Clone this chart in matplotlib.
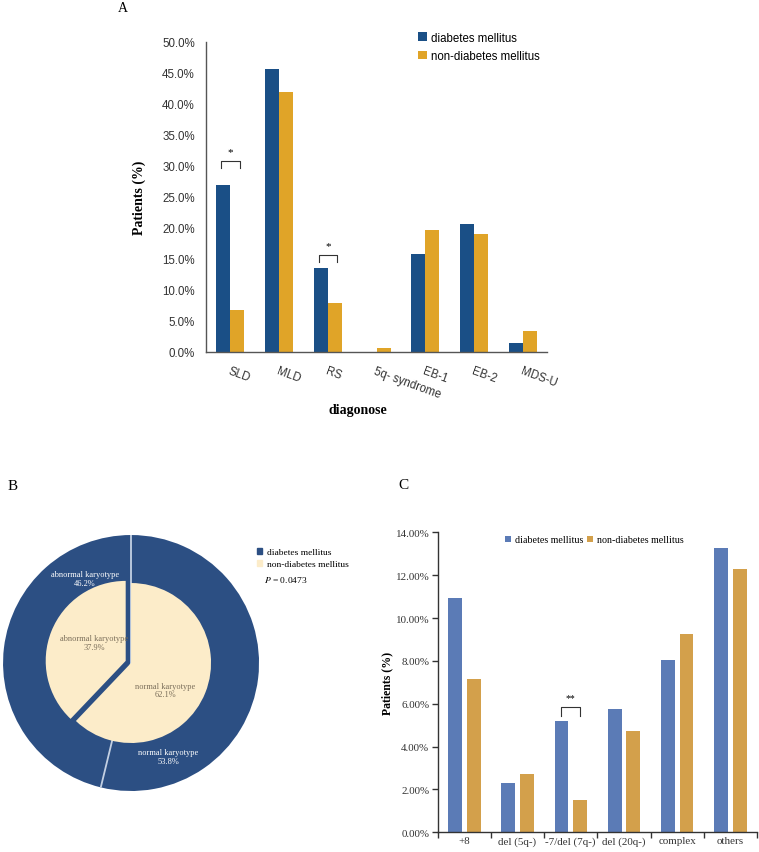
import numpy as np
import matplotlib.pyplot as plt
from matplotlib.patches import Patch
from matplotlib.transforms import ScaledTranslation

plt.rcParams['mathtext.fontset'] = 'stix'

SERIF = ['Liberation Serif', 'DejaVu Serif']
SANS = ['Liberation Sans', 'DejaVu Sans']

# Panel A data
diagnoses = ['SLD', 'MLD', 'RS', '5q- syndrome', 'EB-1', 'EB-2', 'MDS-U']
a_dm = [27.0, 45.7, 13.5, 0.0, 15.8, 20.7, 1.5]
a_non_dm = [6.7, 41.9, 7.9, 0.6, 19.7, 19.1, 3.4]

# Panel B data
karyotypes = ['normal karyotype', 'abnormal karyotype']
b_dm = [53.8, 46.2]
b_non_dm = [62.1, 37.9]
p_value = '0.0473'

# Panel C data
abnormalities = ['+8', 'del (5q-)', '-7/del (7q-)', 'del (20q-)', 'complex', 'others']
c_dm = [10.92, 2.29, 5.18, 5.74, 8.05, 13.25]
c_non_dm = [7.14, 2.72, 1.52, 4.71, 9.25, 12.30]

fig = plt.figure(figsize=(7.59, 8.53), dpi=100)

# ---------------- Panel A ----------------
axA = fig.add_axes([0.2714, 0.5862, 0.4493, 0.3634])
x = np.arange(len(diagnoses))
w = 0.29
dark_blue, gold = '#1a4f86', '#e0a428'
axA.bar(x - w / 2, a_dm, w, color=dark_blue, label='diabetes mellitus')
axA.bar(x + w / 2, a_non_dm, w, color=gold, label='non-diabetes mellitus')
axA.set_xlim(-0.5, len(diagnoses) - 0.5)
axA.set_ylim(0, 50)
axA.set_yticks(np.arange(0, 51, 5))
axA.set_yticklabels([f'{v:.1f}%' for v in np.arange(0, 51, 5)], family=SANS, fontsize=8.3, color='#333333')
axA.set_xticks(x)
axA.set_xticklabels(diagnoses, family=SANS, fontsize=8.3, color='#333333', rotation=-20,
                    ha='left', rotation_mode='anchor')
shift = ScaledTranslation(-5 / 100, 0, fig.dpi_scale_trans)
for lbl in axA.get_xticklabels():
    lbl.set_transform(lbl.get_transform() + shift)
axA.tick_params(axis='both', length=0)
axA.tick_params(axis='x', pad=9)
axA.tick_params(axis='y', pad=8)
for s in ['top', 'right']:
    axA.spines[s].set_visible(False)
for s in ['left', 'bottom']:
    axA.spines[s].set_color('#555555')
    axA.spines[s].set_linewidth(1.0)
axA.set_ylabel('Patients (%)', family=SERIF, fontweight='bold', fontsize=10)
axA.yaxis.set_label_coords(-0.175, 0.5)
axA.set_xlabel('diagonose', family=SERIF, fontweight='bold', fontsize=10)
axA.xaxis.set_label_coords(0.445, -0.165)
axA.legend(loc='upper left', bbox_to_anchor=(0.59, 1.067), frameon=False,
           prop={'family': SANS, 'size': 8.3}, handlelength=0.8, handleheight=0.8,
           handletextpad=0.4, labelspacing=0.55)


def bracket(ax, x0, x1, y0, y1, text, fs):
    ax.plot([x0, x0, x1, x1], [y0, y1, y1, y0], color='#333333', lw=0.8, clip_on=False)
    ax.text((x0 + x1) / 2, y1 + (y1 - y0) * 0.6, text, ha='center', va='bottom', fontsize=fs,
            family=SERIF)


bracket(axA, 0 - 0.19, 0 + 0.19, a_dm[0] + 2.6, a_dm[0] + 3.8, '*', 8)
bracket(axA, 2 - 0.19, 2 + 0.19, a_dm[2] + 1.0, a_dm[2] + 2.2, '*', 8)

fig.text(118 / 759, 1 - 8 / 853, 'A', family=SERIF, fontsize=10, va='center', ha='left')

# ---------------- Panel B ----------------
axB = fig.add_axes([0.004, 0.0715, 0.3373, 0.3001])
navy, cream = '#2c4f83', '#fcecc9'
outer, _ = axB.pie(b_dm, radius=1.0, startangle=90, counterclock=False,
                   colors=[navy, navy], wedgeprops=dict(linewidth=0))
# light separators between the outer slices, drawn from the slice angles
for wdg in outer:
    t = np.deg2rad(wdg.theta1)
    axB.plot([0, np.cos(t)], [0, np.sin(t)], color='#c3d0e3', lw=1.3, zorder=1.5,
             solid_capstyle='butt')
inner, _ = axB.pie(b_non_dm, radius=0.625, startangle=90, counterclock=False,
                   colors=[cream, cream], explode=[0, 0.045], wedgeprops=dict(linewidth=0))
for wdg in inner:
    wdg.set_zorder(2)
axB.set_xlim(-1.0, 1.0)
axB.set_ylim(-1.0, 1.0)
axB.set_aspect('equal')

tk = dict(family=SERIF, fontsize=6, ha='center', va='center', linespacing=1.1, zorder=3)
axB.text(-0.36, 0.66, f'{karyotypes[1]}\n{b_dm[1]}%', color='white', **tk)
axB.text(0.29, -0.73, f'{karyotypes[0]}\n{b_dm[0]}%', color='white', **tk)
axB.text(-0.29, 0.16, f'{karyotypes[1]}\n{b_non_dm[1]}%', color='#7a6e5a', **tk)
axB.text(0.27, -0.21, f'{karyotypes[0]}\n{b_non_dm[0]}%', color='#7a6e5a', **tk)

fig.legend(handles=[Patch(color=navy, label='diabetes mellitus'),
                    Patch(color=cream, label='non-diabetes mellitus')],
           loc='upper left', bbox_to_anchor=(253 / 759, 1 - 545 / 853), frameon=False,
           prop={'family': SERIF, 'size': 6.8}, handlelength=0.6, handleheight=0.6,
           handletextpad=0.5, labelspacing=0.4, borderaxespad=0)
fig.text(264 / 759, 1 - 580 / 853, f'$P$ = {p_value}', family=SERIF, fontsize=6.8, va='center')

fig.text(8 / 759, 1 - 487 / 853, 'B', family=SERIF, fontsize=11, va='center', ha='left')

# ---------------- Panel C ----------------
axC = fig.add_axes([0.5767, 0.0231, 0.4206, 0.3517])
xc = np.arange(len(abnormalities))
wc = 0.26
off = 0.175
light_blue, tan = '#5b7bb6', '#d3a04b'
axC.bar(xc - off, c_dm, wc, color=light_blue, label='diabetes mellitus')
axC.bar(xc + off, c_non_dm, wc, color=tan, label='non-diabetes mellitus')
axC.set_xlim(-0.5, len(abnormalities) - 0.5)
axC.set_ylim(0, 14)
yt = np.arange(0, 14.1, 2)
axC.set_yticks(yt)
axC.set_yticklabels([f'{v:.2f}%' for v in yt], family=SERIF, fontsize=7.9, color='#333333')
axC.set_xticks(xc)
axC.set_xticklabels(abnormalities, family=SERIF, fontsize=7.9, color='#333333')
axC.set_xticks(np.arange(len(abnormalities) + 1) - 0.5, minor=True)
axC.tick_params(axis='x', which='major', length=0, pad=3)
axC.tick_params(axis='x', which='minor', length=4, width=1.0, direction='out', color='#333333')
axC.tick_params(axis='y', length=4, width=1.0, color='#333333', pad=2)
for s in ['top', 'right']:
    axC.spines[s].set_visible(False)
for s in ['left', 'bottom']:
    axC.spines[s].set_color('#333333')
    axC.spines[s].set_linewidth(1.0)
axC.set_ylabel('Patients (%)', family=SERIF, fontweight='bold', fontsize=8.5)
axC.yaxis.set_label_coords(-0.14, 0.5)
axC.legend(loc='upper center', bbox_to_anchor=(0.49, 1.02), ncol=2, frameon=False,
           prop={'family': SERIF, 'size': 7.2}, handlelength=0.6, handleheight=0.6,
           handletextpad=0.4, columnspacing=0.4)

bracket(axC, 2 - off, 2 + off * 0.95, c_dm[2] + 0.25, c_dm[2] + 0.65, '**', 7)

fig.text(403 / 759, 1 - 486 / 853, 'C', family=SERIF, fontsize=11, va='center', ha='center')

fig.savefig('out.png', dpi=100)
